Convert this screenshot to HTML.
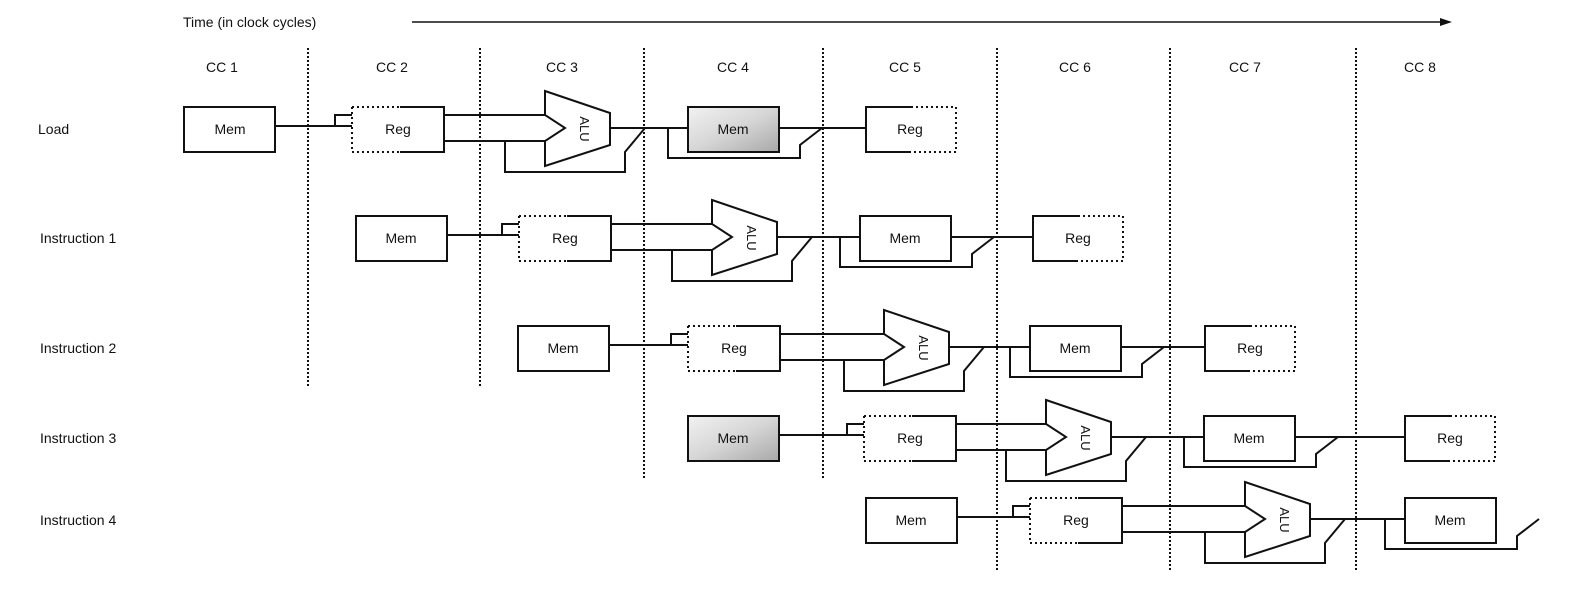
<!DOCTYPE html>
<html><head><meta charset="utf-8"><style>
html,body{margin:0;padding:0;background:#fff;}
svg{display:block;}
text{font-family:"Liberation Sans",sans-serif;fill:#111;}
</style></head><body>
<svg width="1585" height="594" viewBox="0 0 1585 594" xmlns="http://www.w3.org/2000/svg">
<defs>
<linearGradient id="sh" x1="0" y1="0" x2="1" y2="1">
<stop offset="0" stop-color="#f2f2f2"/><stop offset="0.5" stop-color="#d6d6d6"/><stop offset="1" stop-color="#a8a8a8"/>
</linearGradient>
<g id="mem"><rect x="0" y="-22" width="91" height="45" fill="#fff" stroke="#111" stroke-width="2"/></g>
<g id="memS"><rect x="0" y="-22" width="91" height="45" fill="url(#sh)" stroke="#111" stroke-width="2"/></g>
<g id="reg1" fill="none" stroke="#111" stroke-width="2">
<path d="M0,-22 V23 M0,-22 H48 M0,23 H48" stroke-dasharray="2,3"/>
<path d="M48,-22 H92 V23 H48"/>
</g>
<g id="reg2" fill="none" stroke="#111" stroke-width="2">
<path d="M45,-22 H90 V23 H45" stroke-dasharray="2,3"/>
<path d="M45,-22 H0 V23 H45"/>
</g>
<g id="alu" fill="none" stroke="#111" stroke-width="2">
<polygon points="0,-38 65,-16 65,16 0,37 0,12 20,-1 0,-14" fill="#fff"/>
<path d="M-40,12 V43 H80 V23 L100,-1"/>
<path d="M65,-1 H100"/>
</g>
<g id="mloop" fill="none" stroke="#111" stroke-width="2">
<path d="M-20,-1 V29 H112 V16 L134,-1"/>
<path d="M-20,-1 H0"/>
</g>
</defs>

<!-- header -->
<text x="183" y="27" font-size="14">Time (in clock cycles)</text>
<line x1="412" y1="22" x2="1445" y2="22" stroke="#111" stroke-width="1.5"/>
<polygon points="1452,22 1440,18 1440,26" fill="#111"/>
<g font-size="14" text-anchor="middle">
<text x="222" y="72">CC 1</text><text x="392" y="72">CC 2</text><text x="562" y="72">CC 3</text>
<text x="733" y="72">CC 4</text><text x="905" y="72">CC 5</text><text x="1075" y="72">CC 6</text>
<text x="1245" y="72">CC 7</text><text x="1420" y="72">CC 8</text>
</g>
<g stroke="#111" stroke-width="2" stroke-dasharray="2,2">
<line x1="308" y1="48" x2="308" y2="388"/>
<line x1="480" y1="48" x2="480" y2="388"/>
<line x1="644" y1="48" x2="644" y2="480"/>
<line x1="823" y1="48" x2="823" y2="480"/>
<line x1="997" y1="48" x2="997" y2="572"/>
<line x1="1170" y1="48" x2="1170" y2="572"/>
<line x1="1356" y1="48" x2="1356" y2="572"/>
</g>
<g font-size="14">
<text x="38" y="134">Load</text>
<text x="40" y="243">Instruction 1</text>
<text x="40" y="353">Instruction 2</text>
<text x="40" y="443">Instruction 3</text>
<text x="40" y="525">Instruction 4</text>
</g>

<!-- Load -->
<g transform="translate(0,129)" stroke="#111" stroke-width="2" fill="none">
<use href="#mem" x="184"/>
<path d="M275,-3 H352 M335,-3 V-14 H352"/>
<use href="#reg1" x="352"/>
<path d="M444,-14 H545 M444,12 H545"/>
<use href="#alu" x="545"/>
<path d="M645,-1 H688"/>
<use href="#mloop" x="688"/>
<use href="#memS" x="688"/>
<path d="M779,-1 H866"/>
<use href="#reg2" x="866"/>
</g>
<!-- I1 -->
<g transform="translate(0,238)" stroke="#111" stroke-width="2" fill="none">
<use href="#mem" x="356"/>
<path d="M447,-3 H519 M502,-3 V-14 H519"/>
<use href="#reg1" x="519"/>
<path d="M611,-14 H712 M611,12 H712"/>
<use href="#alu" x="712"/>
<path d="M812,-1 H860"/>
<use href="#mloop" x="860"/>
<use href="#mem" x="860"/>
<path d="M951,-1 H1033"/>
<use href="#reg2" x="1033"/>
</g>
<!-- I2 -->
<g transform="translate(0,348)" stroke="#111" stroke-width="2" fill="none">
<use href="#mem" x="518"/>
<path d="M609,-3 H688 M671,-3 V-14 H688"/>
<use href="#reg1" x="688"/>
<path d="M780,-14 H884 M780,12 H884"/>
<use href="#alu" x="884"/>
<path d="M984,-1 H1030"/>
<use href="#mloop" x="1030"/>
<use href="#mem" x="1030"/>
<path d="M1121,-1 H1205"/>
<use href="#reg2" x="1205"/>
</g>
<!-- I3 -->
<g transform="translate(0,438)" stroke="#111" stroke-width="2" fill="none">
<use href="#memS" x="688"/>
<path d="M779,-3 H864 M847,-3 V-14 H864"/>
<use href="#reg1" x="864"/>
<path d="M956,-14 H1046 M956,12 H1046"/>
<use href="#alu" x="1046"/>
<path d="M1146,-1 H1204"/>
<use href="#mloop" x="1204"/>
<use href="#mem" x="1204"/>
<path d="M1295,-1 H1405"/>
<use href="#reg2" x="1405"/>
</g>
<!-- I4 -->
<g transform="translate(0,520)" stroke="#111" stroke-width="2" fill="none">
<use href="#mem" x="866"/>
<path d="M957,-3 H1030 M1013,-3 V-14 H1030"/>
<use href="#reg1" x="1030"/>
<path d="M1122,-14 H1245 M1122,12 H1245"/>
<use href="#alu" x="1245"/>
<path d="M1345,-1 H1405"/>
<use href="#mloop" x="1405"/>
<use href="#mem" x="1405"/>
</g>

<!-- box labels -->
<g font-size="14" text-anchor="middle">
<text x="230" y="134">Mem</text><text x="398" y="134">Reg</text><text x="733" y="134">Mem</text><text x="910" y="134">Reg</text>
<text x="401" y="243">Mem</text><text x="565" y="243">Reg</text><text x="905" y="243">Mem</text><text x="1078" y="243">Reg</text>
<text x="563" y="353">Mem</text><text x="734" y="353">Reg</text><text x="1075" y="353">Mem</text><text x="1250" y="353">Reg</text>
<text x="733" y="443">Mem</text><text x="910" y="443">Reg</text><text x="1249" y="443">Mem</text><text x="1450" y="443">Reg</text>
<text x="911" y="525">Mem</text><text x="1076" y="525">Reg</text><text x="1450" y="525">Mem</text>
</g>
<g font-size="13" text-anchor="middle">
<text transform="translate(585,129) rotate(90)" y="5">ALU</text>
<text transform="translate(752,238) rotate(90)" y="5">ALU</text>
<text transform="translate(924,348) rotate(90)" y="5">ALU</text>
<text transform="translate(1086,438) rotate(90)" y="5">ALU</text>
<text transform="translate(1285,520) rotate(90)" y="5">ALU</text>
</g>
</svg>
</body></html>
